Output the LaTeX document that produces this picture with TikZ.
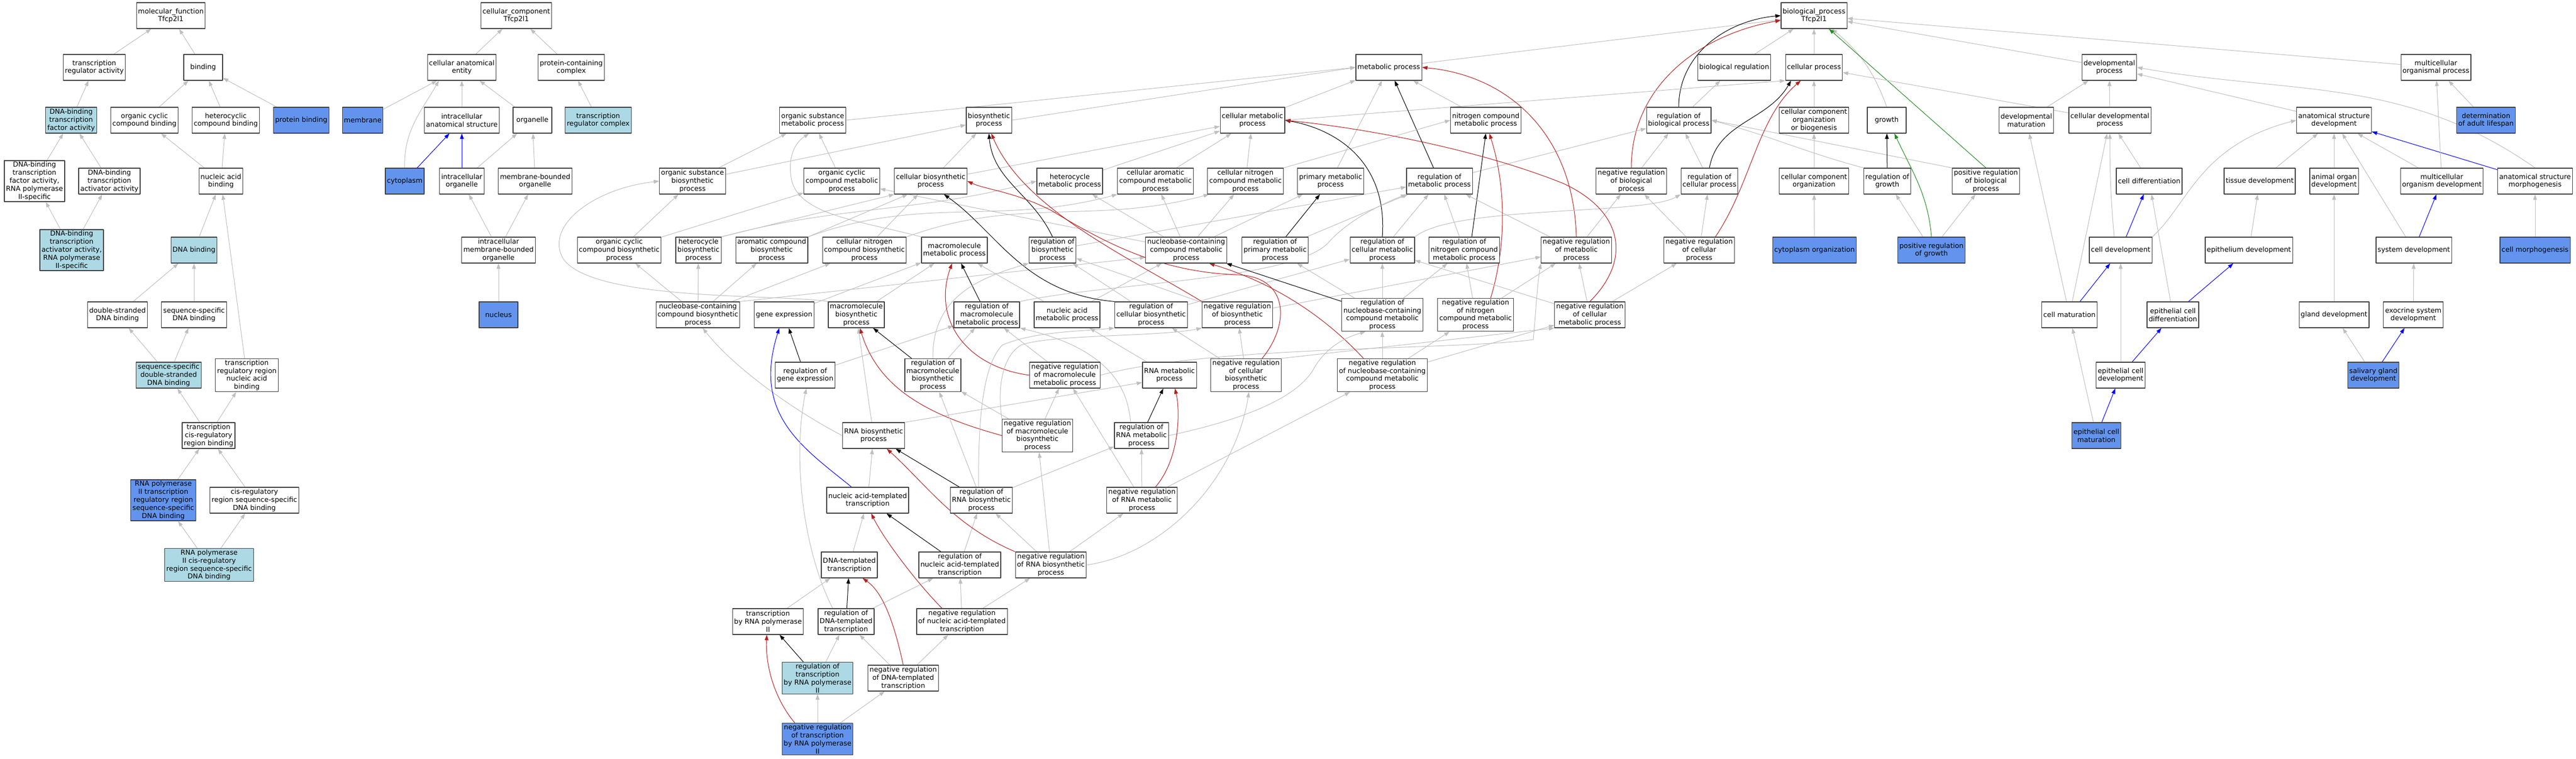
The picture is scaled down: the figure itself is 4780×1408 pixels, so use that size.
\documentclass[tikz,border=0pt]{standalone}
\usepackage{fontspec}
\setmainfont{DejaVu Sans}
\usetikzlibrary{arrows.meta,backgrounds}
\definecolor{isagrey}{rgb}{0.75,0.75,0.75}
\definecolor{negred}{rgb}{0.70,0.13,0.13}
\definecolor{posgreen}{rgb}{0.13,0.55,0.13}
\definecolor{partblue}{rgb}{0.0,0.0,1.0}
\definecolor{hitblue}{rgb}{0.39,0.58,0.93}
\definecolor{setblue}{rgb}{0.68,0.85,0.90}
\definecolor{boxline}{rgb}{0.25,0.25,0.25}
\begin{document}
\begin{tikzpicture}[x=1bp,y=1bp,>={Triangle[length=10bp,width=7bp]},line join=bevel,
  term/.style={draw=boxline,line width=1.2bp,fill=white,align=center,inner xsep=3bp,inner ysep=2bp,
    minimum width=72bp,minimum height=48bp,font=\fontsize{12.8}{15}\selectfont},
  hitbox/.style={term,fill=hitblue},
  setbox/.style={term,fill=setblue},
  isa/.style={->,draw=isagrey,line width=1bp},
  reg/.style={->,draw=black,line width=1bp},
  negreg/.style={->,draw=negred,line width=1bp},
  posreg/.style={->,draw=posgreen,line width=1bp},
  partof/.style={->,draw=partblue,line width=1bp}]
\useasboundingbox (0,0) rectangle (4780,-1408);
%%
%% molecular function
  % Node: mf
  \node[term] (mf) at (317,-29) {molecular\_function\\Tfcp2l1};
  % Node: tra
  \node[term] (tra) at (175,-125) {transcription\\regulator activity};
  % Node: bind
  \node[term] (bind) at (377,-125) {binding};
  % Node: dbtf
  \node[setbox] (dbtf) at (132,-223) {DNA-binding\\transcription\\factor activity};
  % Node: ocb
  \node[term] (ocb) at (268,-223) {organic cyclic\\compound binding};
  % Node: hcb
  \node[term] (hcb) at (419,-223) {heterocyclic\\compound binding};
  % Node: pb
  \node[hitbox] (pb) at (559,-223) {protein binding};
  % Node: dbtfII
  \node[term] (dbtfII) at (64,-336) {DNA-binding\\transcription\\factor activity,\\RNA polymerase\\II-specific};
  % Node: dbta
  \node[term] (dbta) at (203,-336) {DNA-binding\\transcription\\activator activity};
  % Node: nab
  \node[term] (nab) at (410,-336) {nucleic acid\\binding};
  % Node: dbtaII
  \node[setbox] (dbtaII) at (133,-464) {DNA-binding\\transcription\\activator activity,\\RNA polymerase\\II-specific};
  % Node: dnab
  \node[setbox] (dnab) at (360,-464) {DNA binding};
  % Node: dsdb
  \node[term] (dsdb) at (218,-584) {double-stranded\\DNA binding};
  % Node: ssdb
  \node[term] (ssdb) at (360,-584) {sequence-specific\\DNA binding};
  % Node: ssdsdb
  \node[setbox] (ssdsdb) at (313,-696) {sequence-specific\\double-stranded\\DNA binding};
  % Node: trrnab
  \node[term] (trrnab) at (458,-696) {transcription\\regulatory region\\nucleic acid\\binding};
  % Node: tcrb
  \node[term] (tcrb) at (387,-808) {transcription\\cis-regulatory\\region binding};
  % Node: rp2tr
  \node[hitbox] (rp2tr) at (303,-928) {RNA polymerase\\II transcription\\regulatory region\\sequence-specific\\DNA binding};
  % Node: crssdb
  \node[term] (crssdb) at (472,-928) {cis-regulatory\\region sequence-specific\\DNA binding};
  % Node: rp2cr
  \node[setbox] (rp2cr) at (388,-1048) {RNA polymerase\\II cis-regulatory\\region sequence-specific\\DNA binding};
%%
%% cellular component
  % Node: cc
  \node[term] (cc) at (958,-29) {cellular\_component\\Tfcp2l1};
  % Node: cae
  \node[term] (cae) at (857,-125) {cellular anatomical\\entity};
  % Node: pcc
  \node[term] (pcc) at (1060,-125) {protein-containing\\complex};
  % Node: memb
  \node[hitbox] (memb) at (673,-223) {membrane};
  % Node: ias
  \node[term] (ias) at (857,-223) {intracellular\\anatomical structure};
  % Node: org
  \node[term] (org) at (988,-223) {organelle};
  % Node: trc
  \node[setbox] (trc) at (1110,-223) {transcription\\regulator complex};
  % Node: cyto
  \node[hitbox] (cyto) at (751,-336) {cytoplasm};
  % Node: io
  \node[term] (io) at (857,-336) {intracellular\\organelle};
  % Node: mbo
  \node[term] (mbo) at (993,-336) {membrane-bounded\\organelle};
  % Node: imbo
  \node[term] (imbo) at (925,-464) {intracellular\\membrane-bounded\\organelle};
  % Node: nuc
  \node[hitbox] (nuc) at (925,-584) {nucleus};
%%
%% biological process, top
  % Node: bp
  \node[term] (bp) at (3366,-29) {biological\_process\\Tfcp2l1};
  % Node: mp
  \node[term] (mp) at (2577,-125) {metabolic process};
  % Node: breg
  \node[term] (breg) at (3218,-125) {biological regulation};
  % Node: cp
  \node[term] (cp) at (3366,-125) {cellular process};
  % Node: dp
  \node[term] (dp) at (3914,-125) {developmental\\process};
  % Node: mop
  \node[term] (mop) at (4520,-125) {multicellular\\organismal process};
%% rank 2
  % Node: osmp
  \node[term] (osmp) at (1508,-223) {organic substance\\metabolic process};
  % Node: bsp
  \node[term] (bsp) at (1835,-223) {biosynthetic\\process};
  % Node: cmp
  \node[term] (cmp) at (2324,-223) {cellular metabolic\\process};
  % Node: ncmp
  \node[term] (ncmp) at (2757,-223) {nitrogen compound\\metabolic process};
  % Node: rbp
  \node[term] (rbp) at (3115,-223) {regulation of\\biological process};
  % Node: ccob
  \node[term] (ccob) at (3366,-223) {cellular component\\organization\\or biogenesis};
  % Node: growth
  \node[term] (growth) at (3501,-223) {growth};
  % Node: dmat
  \node[term] (dmat) at (3760,-223) {developmental\\maturation};
  % Node: cdp
  \node[term] (cdp) at (3915,-223) {cellular developmental\\process};
  % Node: asd
  \node[term] (asd) at (4331,-223) {anatomical structure\\development};
  % Node: dal
  \node[hitbox] (dal) at (4613,-223) {determination\\of adult lifespan};
%% rank 3
  % Node: osbp
  \node[term] (osbp) at (1285,-336) {organic substance\\biosynthetic\\process};
  % Node: ocmp
  \node[term] (ocmp) at (1562,-336) {organic cyclic\\compound metabolic\\process};
  % Node: cbp
  \node[term] (cbp) at (1727,-336) {cellular biosynthetic\\process};
  % Node: hmp
  \node[term] (hmp) at (1985,-336) {heterocycle\\metabolic process};
  % Node: camp
  \node[term] (camp) at (2144,-336) {cellular aromatic\\compound metabolic\\process};
  % Node: cnmp
  \node[term] (cnmp) at (2311,-336) {cellular nitrogen\\compound metabolic\\process};
  % Node: pmp
  \node[term] (pmp) at (2469,-336) {primary metabolic\\process};
  % Node: rmp
  \node[term] (rmp) at (2671,-336) {regulation of\\metabolic process};
  % Node: nrbp
  \node[term] (nrbp) at (3027,-336) {negative regulation\\of biological\\process};
  % Node: rcp
  \node[term] (rcp) at (3172,-336) {regulation of\\cellular process};
  % Node: ccorg
  \node[term] (ccorg) at (3366,-336) {cellular component\\organization};
  % Node: rgrowth
  \node[term] (rgrowth) at (3502,-336) {regulation of\\growth};
  % Node: prbp
  \node[term] (prbp) at (3685,-336) {positive regulation\\of biological\\process};
  % Node: cdiff
  \node[term] (cdiff) at (3988,-336) {cell differentiation};
  % Node: tdev
  \node[term] (tdev) at (4193,-336) {tissue development};
  % Node: aod
  \node[term] (aod) at (4331,-336) {animal organ\\development};
  % Node: mod
  \node[term] (mod) at (4531,-336) {multicellular\\organism development};
  % Node: asm
  \node[term] (asm) at (4704,-336) {anatomical structure\\morphogenesis};
%% rank 4
  % Node: ocbp
  \node[term] (ocbp) at (1149,-464) {organic cyclic\\compound biosynthetic\\process};
  % Node: hbp
  \node[term] (hbp) at (1296,-464) {heterocycle\\biosynthetic\\process};
  % Node: acbp
  \node[term] (acbp) at (1432,-464) {aromatic compound\\biosynthetic\\process};
  % Node: cnbp
  \node[term] (cnbp) at (1604,-464) {cellular nitrogen\\compound biosynthetic\\process};
  % Node: mmp
  \node[term] (mmp) at (1771,-464) {macromolecule\\metabolic process};
  % Node: rbsp
  \node[term] (rbsp) at (1953,-464) {regulation of\\biosynthetic\\process};
  % Node: nbmp
  \node[term] (nbmp) at (2201,-464) {nucleobase-containing\\compound metabolic\\process};
  % Node: rpmp
  \node[term] (rpmp) at (2366,-464) {regulation of\\primary metabolic\\process};
  % Node: rcmp
  \node[term] (rcmp) at (2565,-464) {regulation of\\cellular metabolic\\process};
  % Node: rncmp
  \node[term] (rncmp) at (2717,-464) {regulation of\\nitrogen compound\\metabolic process};
  % Node: nrmp
  \node[term] (nrmp) at (2925,-464) {negative regulation\\of metabolic\\process};
  % Node: nrcp
  \node[term] (nrcp) at (3153,-464) {negative regulation\\of cellular\\process};
  % Node: cporg
  \node[hitbox] (cporg) at (3367,-464) {cytoplasm organization};
  % Node: prg
  \node[hitbox] (prg) at (3584,-464) {positive regulation\\of growth};
  % Node: cdev
  \node[term] (cdev) at (3935,-464) {cell development};
  % Node: epd
  \node[term] (epd) at (4173,-464) {epithelium development};
  % Node: sysd
  \node[term] (sysd) at (4479,-464) {system development};
  % Node: cmorph
  \node[hitbox] (cmorph) at (4704,-464) {cell morphogenesis};
%% rank 5
  % Node: nbbp
  \node[term] (nbbp) at (1295,-584) {nucleobase-containing\\compound biosynthetic\\process};
  % Node: gexp
  \node[term] (gexp) at (1455,-584) {gene expression};
  % Node: mbp
  \node[term] (mbp) at (1589,-584) {macromolecule\\biosynthetic\\process};
  % Node: rmmp
  \node[term] (rmmp) at (1831,-584) {regulation of\\macromolecule\\metabolic process};
  % Node: namp
  \node[term] (namp) at (1980,-584) {nucleic acid\\metabolic process};
  % Node: rcbp
  \node[term] (rcbp) at (2136,-584) {regulation of\\cellular biosynthetic\\process};
  % Node: nrbsp
  \node[term] (nrbsp) at (2296,-584) {negative regulation\\of biosynthetic\\process};
  % Node: rnbmp
  \node[term] (rnbmp) at (2565,-584) {regulation of\\nucleobase-containing\\compound metabolic\\process};
  % Node: nrnmp
  \node[term] (nrnmp) at (2738,-584) {negative regulation\\of nitrogen\\compound metabolic\\process};
  % Node: nrcmp
  \node[term] (nrcmp) at (2950,-584) {negative regulation\\of cellular\\metabolic process};
  % Node: cmat
  \node[term] (cmat) at (3840,-584) {cell maturation};
  % Node: ecd
  \node[term] (ecd) at (4032,-584) {epithelial cell\\differentiation};
  % Node: glandd
  \node[term] (glandd) at (4331,-584) {gland development};
  % Node: exod
  \node[term] (exod) at (4478,-584) {exocrine system\\development};
%% rank 6
  % Node: rge
  \node[term] (rge) at (1494,-696) {regulation of\\gene expression};
  % Node: rmbp
  \node[term] (rmbp) at (1731,-696) {regulation of\\macromolecule\\biosynthetic\\process};
  % Node: nrmmp
  \node[term] (nrmmp) at (1976,-696) {negative regulation\\of macromolecule\\metabolic process};
  % Node: rnamp
  \node[term] (rnamp) at (2170,-696) {RNA metabolic\\process};
  % Node: nrcbp
  \node[term] (nrcbp) at (2312,-696) {negative regulation\\of cellular\\biosynthetic\\process};
  % Node: nrnbmp
  \node[term] (nrnbmp) at (2565,-696) {negative regulation\\of nucleobase-containing\\compound metabolic\\process};
  % Node: ecdev
  \node[term] (ecdev) at (3935,-696) {epithelial cell\\development};
  % Node: sgd
  \node[hitbox] (sgd) at (4404,-696) {salivary gland\\development};
%% rank 7 and below
  % Node: rnabsp
  \node[term] (rnabsp) at (1621,-808) {RNA biosynthetic\\process};
  % Node: nrmbp
  \node[term] (nrmbp) at (1925,-808) {negative regulation\\of macromolecule\\biosynthetic\\process};
  % Node: rrnamp
  \node[term] (rrnamp) at (2118,-808) {regulation of\\RNA metabolic\\process};
  % Node: ecm
  \node[hitbox] (ecm) at (3890,-808) {epithelial cell\\maturation};
  % Node: nat
  \node[term] (nat) at (1610,-928) {nucleic acid-templated\\transcription};
  % Node: rrnabsp
  \node[term] (rrnabsp) at (1821,-928) {regulation of\\RNA biosynthetic\\process};
  % Node: nrrnamp
  \node[term] (nrrnamp) at (2119,-928) {negative regulation\\of RNA metabolic\\process};
  % Node: dtt
  \node[term] (dtt) at (1576,-1048) {DNA-templated\\transcription};
  % Node: rnat
  \node[term] (rnat) at (1781,-1048) {regulation of\\nucleic acid-templated\\transcription};
  % Node: nrrnabsp
  \node[term] (nrrnabsp) at (1950,-1048) {negative regulation\\of RNA biosynthetic\\process};
  % Node: tbrp2
  \node[term] (tbrp2) at (1425,-1153) {transcription\\by RNA polymerase\\II};
  % Node: rdtt
  \node[term] (rdtt) at (1570,-1153) {regulation of\\DNA-templated\\transcription};
  % Node: nrnat
  \node[term] (nrnat) at (1785,-1153) {negative regulation\\of nucleic acid-templated\\transcription};
  % Node: rtbrp2
  \node[setbox] (rtbrp2) at (1517,-1258) {regulation of\\transcription\\by RNA polymerase\\II};
  % Node: nrdtt
  \node[term] (nrdtt) at (1676,-1258) {negative regulation\\of DNA-templated\\transcription};
  % Node: nrtbrp2
  \node[hitbox] (nrtbrp2) at (1517,-1371) {negative regulation\\of transcription\\by RNA polymerase\\II};
%%
\begin{pgfonlayer}{background}
  \fill[white] (0,0) rectangle (4780,-1408);
  %% molecular function edges
  % Edge: tra -> mf
  \draw[isa] (tra) -- (mf);
  % Edge: bind -> mf
  \draw[isa] (bind) -- (mf);
  % Edge: dbtf -> tra
  \draw[isa] (dbtf) -- (tra);
  % Edge: ocb -> bind
  \draw[isa] (ocb) -- (bind);
  % Edge: hcb -> bind
  \draw[isa] (hcb) -- (bind);
  % Edge: pb -> bind
  \draw[isa] (pb) -- (bind);
  % Edge: dbtfII -> dbtf
  \draw[isa] (dbtfII) -- (dbtf);
  % Edge: dbta -> dbtf
  \draw[isa] (dbta) -- (dbtf);
  % Edge: nab -> ocb
  \draw[isa] (nab) -- (ocb);
  % Edge: nab -> hcb
  \draw[isa] (nab) -- (hcb);
  % Edge: dbtaII -> dbtfII
  \draw[isa] (dbtaII) -- (dbtfII);
  % Edge: dbtaII -> dbta
  \draw[isa] (dbtaII) -- (dbta);
  % Edge: dnab -> nab
  \draw[isa] (dnab) -- (nab);
  % Edge: trrnab -> nab
  \draw[isa] (trrnab) -- (nab);
  % Edge: dsdb -> dnab
  \draw[isa] (dsdb) -- (dnab);
  % Edge: ssdb -> dnab
  \draw[isa] (ssdb) -- (dnab);
  % Edge: ssdsdb -> dsdb
  \draw[isa] (ssdsdb) -- (dsdb);
  % Edge: ssdsdb -> ssdb
  \draw[isa] (ssdsdb) -- (ssdb);
  % Edge: tcrb -> ssdsdb
  \draw[isa] (tcrb) -- (ssdsdb);
  % Edge: tcrb -> trrnab
  \draw[isa] (tcrb) -- (trrnab);
  % Edge: rp2tr -> tcrb
  \draw[isa] (rp2tr) -- (tcrb);
  % Edge: crssdb -> tcrb
  \draw[isa] (crssdb) -- (tcrb);
  % Edge: rp2cr -> rp2tr
  \draw[isa] (rp2cr) -- (rp2tr);
  % Edge: rp2cr -> crssdb
  \draw[isa] (rp2cr) -- (crssdb);
  %% cellular component edges
  % Edge: cae -> cc
  \draw[isa] (cae) -- (cc);
  % Edge: pcc -> cc
  \draw[isa] (pcc) -- (cc);
  % Edge: memb -> cae
  \draw[isa] (memb) -- (cae);
  % Edge: cyto -> cae
  \draw[isa] (cyto.north) to[out=92,in=-120] (cae.-150);
  % Edge: ias -> cae
  \draw[isa] (ias) -- (cae);
  % Edge: org -> cae
  \draw[isa] (org) -- (cae);
  % Edge: trc -> pcc
  \draw[isa] (trc) -- (pcc);
  % Edge: cyto -> ias
  \draw[partof] (cyto) -- (ias);
  % Edge: io -> ias
  \draw[partof] (io) -- (ias);
  % Edge: io -> org
  \draw[isa] (io) -- (org);
  % Edge: mbo -> org
  \draw[isa] (mbo) -- (org);
  % Edge: imbo -> io
  \draw[isa] (imbo) -- (io);
  % Edge: imbo -> mbo
  \draw[isa] (imbo) -- (mbo);
  % Edge: nuc -> imbo
  \draw[isa] (nuc) -- (imbo);
  %% biological process, top
  % Edge: breg -> bp
  \draw[isa] (breg) -- (bp);
  % Edge: cp -> bp
  \draw[isa] (cp) -- (bp);
  % Edge: mp -> bp
  \draw[isa] (mp) -- (bp);
  % Edge: growth -> bp
  \draw[isa] (growth.north) to[bend right=15] (bp);
  % Edge: dp -> bp
  \draw[isa] (dp) -- (bp);
  % Edge: mop -> bp
  \draw[isa] (mop) -- (bp);
  % Edge: rbp -> bp
  \draw[reg] (rbp.north) to[out=90,in=185] (bp.west);
  % Edge: nrbp -> bp
  \draw[negreg] (nrbp.north) to[out=90,in=190] (bp.-172);
  % Edge: prbp -> bp
  \draw[posreg] (prbp.north) -- (bp);
  % Edge: rbp -> breg
  \draw[isa] (rbp) -- (breg);
  % Edge: nrbp -> rbp
  \draw[isa] (nrbp) -- (rbp);
  % Edge: prbp -> rbp
  \draw[isa] (prbp.north west) -- (rbp.east);
  % Edge: rgrowth -> rbp
  \draw[isa] (rgrowth.north west) to[out=165,in=-15] (rbp.east);
  % Edge: rcp -> rbp
  \draw[isa] (rcp) -- (rbp);
  % Edge: rmp -> rbp
  \draw[isa] (rmp) -- (rbp);
  % Edge: rcp -> cp
  \draw[reg] (rcp.north) to[out=80,in=-120] (cp.-150);
  % Edge: nrcp -> cp
  \draw[negreg] ([xshift=30bp]nrcp.north) .. controls (3250,-340) and (3260,-220) .. (cp.-135);
  % Edge: nrcp -> rcp
  \draw[isa] (nrcp) -- (rcp);
  % Edge: nrcp -> nrbp
  \draw[isa] (nrcp) -- (nrbp);
  % Edge: cmp -> cp
  \draw[isa] (cmp.east) -- (cp.south west);
  % Edge: ccob -> cp
  \draw[isa] (ccob) -- (cp);
  % Edge: ccorg -> ccob
  \draw[isa] (ccorg) -- (ccob);
  % Edge: cporg -> ccorg
  \draw[isa] (cporg) -- (ccorg);
  % Edge: rgrowth -> growth
  \draw[reg] (rgrowth) -- (growth);
  % Edge: prg -> growth
  \draw[posreg] (prg.north) to[out=95,in=-65] (growth.-60);
  % Edge: prg -> rgrowth
  \draw[isa] (prg) -- (rgrowth);
  % Edge: prg -> prbp
  \draw[isa] (prg) -- (prbp);
  % Edge: cdp -> cp
  \draw[isa] (cdp) -- (cp);
  %% development
  % Edge: dmat -> dp
  \draw[isa] (dmat) -- (dp);
  % Edge: cdp -> dp
  \draw[isa] (cdp) -- (dp);
  % Edge: asd -> dp
  \draw[isa] (asd) -- (dp);
  % Edge: asm -> dp
  \draw[isa] (asm.north) to[out=145,in=-10] (dp.east);
  % Edge: cdiff -> cdp
  \draw[isa] (cdiff) -- (cdp);
  % Edge: cdev -> cdp
  \draw[isa] ([xshift=-12bp]cdev.north) to[out=95,in=-90] (cdp.south);
  % Edge: cmat -> dmat
  \draw[isa] (cmat) -- (dmat);
  % Edge: cmat -> cdp
  \draw[isa] (cmat) -- (cdp);
  % Edge: cmat -> cdev
  \draw[partof] (cmat) -- (cdev);
  % Edge: cdev -> cdiff
  \draw[partof] (cdev) -- (cdiff);
  % Edge: cdev -> asd
  \draw[isa] (cdev.north east) .. controls (4060,-380) and (4080,-270) .. (asd.west);
  % Edge: ecdev -> cdev
  \draw[isa] (ecdev) -- (cdev);
  % Edge: ecdev -> ecd
  \draw[partof] (ecdev) -- (ecd);
  % Edge: ecm -> cmat
  \draw[isa] (ecm) -- (cmat);
  % Edge: ecm -> ecdev
  \draw[partof] (ecm) -- (ecdev);
  % Edge: ecd -> cdiff
  \draw[isa] (ecd) -- (cdiff);
  % Edge: ecd -> epd
  \draw[partof] (ecd) -- (epd);
  % Edge: epd -> tdev
  \draw[isa] (epd) -- (tdev);
  % Edge: tdev -> asd
  \draw[isa] (tdev) -- (asd);
  % Edge: aod -> asd
  \draw[isa] (aod) -- (asd);
  % Edge: mod -> asd
  \draw[isa] (mod) -- (asd);
  % Edge: sysd -> asd
  \draw[isa] (sysd) -- (asd);
  % Edge: asm -> asd
  \draw[partof] (asm) -- (asd);
  % Edge: sysd -> mod
  \draw[partof] (sysd) -- (mod);
  % Edge: mod -> mop
  \draw[isa] (mod) -- (mop);
  % Edge: dal -> mop
  \draw[isa] (dal) -- (mop);
  % Edge: glandd -> aod
  \draw[isa] (glandd) -- (aod);
  % Edge: exod -> sysd
  \draw[isa] (exod) -- (sysd);
  % Edge: sgd -> glandd
  \draw[isa] (sgd) -- (glandd);
  % Edge: sgd -> exod
  \draw[partof] (sgd) -- (exod);
  % Edge: cmorph -> asm
  \draw[isa] (cmorph) -- (asm);
  %% metabolism, ranks 1-3
  % Edge: osmp -> mp
  \draw[isa] (osmp.east) -- (mp.west);
  % Edge: bsp -> mp
  \draw[isa] (bsp.east) -- (mp.west);
  % Edge: cmp -> mp
  \draw[isa] (cmp) -- (mp);
  % Edge: pmp -> mp
  \draw[isa] (pmp) -- (mp);
  % Edge: ncmp -> mp
  \draw[isa] (ncmp) -- (mp);
  % Edge: rmp -> mp
  \draw[reg] (rmp) -- (mp);
  % Edge: nrmp -> mp
  \draw[negreg] (nrmp.north) .. controls (2920,-250) and (2800,-140) .. (mp.east);
  % Edge: osbp -> osmp
  \draw[isa] (osbp) -- (osmp);
  % Edge: osbp -> bsp
  \draw[isa] (osbp) -- (bsp);
  % Edge: ocmp -> osmp
  \draw[isa] (ocmp) -- (osmp);
  % Edge: cbp -> bsp
  \draw[isa] (cbp) -- (bsp);
  % Edge: cbp -> cmp
  \draw[isa] (cbp) -- (cmp);
  % Edge: hmp -> cmp
  \draw[isa] (hmp) -- (cmp);
  % Edge: camp -> cmp
  \draw[isa] (camp) -- (cmp);
  % Edge: cnmp -> cmp
  \draw[isa] (cnmp) -- (cmp);
  % Edge: cnmp -> ncmp
  \draw[isa] (cnmp.north east) -- (ncmp.west);
  %% metabolism, rank 4
  % Edge: ocbp -> osbp
  \draw[isa] (ocbp) -- (osbp);
  % Edge: ocbp -> ocmp
  \draw[isa] (ocbp) -- (ocmp);
  % Edge: hbp -> hmp
  \draw[isa] (hbp.north east) to[out=15,in=195] (hmp.west);
  % Edge: hbp -> cbp
  \draw[isa] (hbp.north east) -- (cbp.-160);
  % Edge: acbp -> camp
  \draw[isa] (acbp.north east) to[out=20,in=195] (camp.south west);
  % Edge: acbp -> cbp
  \draw[isa] (acbp.north east) -- (cbp.-150);
  % Edge: cnbp -> cnmp
  \draw[isa] (cnbp.north east) to[out=20,in=195] (cnmp.-160);
  % Edge: cnbp -> cbp
  \draw[isa] (cnbp) -- (cbp);
  % Edge: mmp -> osmp
  \draw[isa] (mmp.north west) .. controls (1600,-410) and (1480,-400) .. (1468,-330) .. controls (1462,-290) and (1475,-265) .. (osmp.-105);
  % Edge: nbmp -> ocmp
  \draw[isa] (nbmp) -- (ocmp);
  % Edge: nbmp -> hmp
  \draw[isa] (nbmp) -- (hmp);
  % Edge: nbmp -> camp
  \draw[isa] (nbmp) -- (camp);
  % Edge: nbmp -> cnmp
  \draw[isa] (nbmp) -- (cnmp);
  % Edge: nbmp -> pmp
  \draw[isa] (nbmp) -- (pmp);
  % Edge: rbsp -> bsp
  \draw[reg] (rbsp.north) to[out=115,in=-85] (bsp.south);
  % Edge: rbsp -> rmp
  \draw[isa] (rbsp) -- (rmp);
  % Edge: rpmp -> pmp
  \draw[reg] (rpmp) -- (pmp);
  % Edge: rpmp -> rmp
  \draw[isa] (rpmp) -- (rmp);
  % Edge: rcmp -> cmp
  \draw[reg] (rcmp.north) .. controls (2575,-300) and (2480,-240) .. (cmp.east);
  % Edge: rcmp -> rmp
  \draw[isa] (rcmp) -- (rmp);
  % Edge: rcmp -> rcp
  \draw[isa] (rcmp.north east) .. controls (2700,-380) and (3050,-400) .. (rcp.south west);
  % Edge: rncmp -> ncmp
  \draw[reg] ([xshift=14bp]rncmp.north) -- (ncmp.south);
  % Edge: rncmp -> rmp
  \draw[isa] (rncmp) -- (rmp);
  % Edge: nrmp -> rmp
  \draw[isa] (nrmp) -- (rmp);
  % Edge: nrmp -> nrbp
  \draw[isa] (nrmp) -- (nrbp);
  %% metabolism, rank 5
  % Edge: nbbp -> ocbp
  \draw[isa] (nbbp) -- (ocbp);
  % Edge: nbbp -> hbp
  \draw[isa] (nbbp) -- (hbp);
  % Edge: nbbp -> acbp
  \draw[isa] (nbbp) -- (acbp);
  % Edge: nbbp -> cnbp
  \draw[isa] (nbbp) -- (cnbp);
  % Edge: nbbp -> nbmp
  \draw[isa] (nbbp.north east) -- (nbmp.-170);
  % Edge: gexp -> mmp
  \draw[isa] (gexp) -- (mmp);
  % Edge: mbp -> mmp
  \draw[isa] (mbp) -- (mmp);
  % Edge: mbp -> osbp
  \draw[isa] (mbp.north west) .. controls (1450,-545) and (1100,-560) .. (1045,-480) .. controls (1010,-420) and (1100,-350) .. (osbp.west);
  % Edge: rmmp -> mmp
  \draw[reg] (rmmp) -- (mmp);
  % Edge: rmmp -> rmp
  \draw[isa] (rmmp.north east) .. controls (2050,-525) and (2400,-520) .. (2465,-450) .. controls (2500,-410) and (2560,-380) .. (rmp.south west);
  % Edge: namp -> nbmp
  \draw[isa] (namp) -- (nbmp);
  % Edge: namp -> mmp
  \draw[isa] (namp) -- (mmp);
  % Edge: rcbp -> cbp
  \draw[reg] (rcbp.north west) .. controls (1900,-545) and (1850,-430) .. (cbp.-45);
  % Edge: rcbp -> rbsp
  \draw[isa] (rcbp) -- (rbsp);
  % Edge: rcbp -> rcmp
  \draw[isa] (rcbp) -- (rcmp);
  % Edge: nrbsp -> bsp
  \draw[negreg] (nrbsp.north west) .. controls (2100,-480) and (1900,-390) .. (bsp.-80);
  % Edge: nrbsp -> rbsp
  \draw[isa] (nrbsp) -- (rbsp);
  % Edge: nrbsp -> nrmp
  \draw[isa] (nrbsp) -- (nrmp);
  % Edge: rnbmp -> nbmp
  \draw[reg] (rnbmp) -- (nbmp);
  % Edge: rnbmp -> rpmp
  \draw[isa] (rnbmp) -- (rpmp);
  % Edge: rnbmp -> rcmp
  \draw[isa] (rnbmp) -- (rcmp);
  % Edge: rnbmp -> rncmp
  \draw[isa] (rnbmp) -- (rncmp);
  % Edge: nrnmp -> ncmp
  \draw[negreg] ([xshift=28bp]nrnmp.north) .. controls (2800,-440) and (2790,-330) .. (ncmp.-75);
  % Edge: nrnmp -> rncmp
  \draw[isa] (nrnmp) -- (rncmp);
  % Edge: nrnmp -> nrmp
  \draw[isa] (nrnmp) -- (nrmp);
  % Edge: nrcmp -> cmp
  \draw[negreg] (nrcmp.north) .. controls (3030,-480) and (3010,-390) .. (2900,-340) .. controls (2750,-280) and (2550,-240) .. (cmp.east);
  % Edge: nrcmp -> rcmp
  \draw[isa] (nrcmp) -- (rcmp);
  % Edge: nrcmp -> nrmp
  \draw[isa] (nrcmp) -- (nrmp);
  % Edge: nrcmp -> nrcp
  \draw[isa] (nrcmp) -- (nrcp);
  %% metabolism, rank 6
  % Edge: rge -> gexp
  \draw[reg] (rge) -- (gexp);
  % Edge: rge -> rmmp
  \draw[isa] (rge) -- (rmmp);
  % Edge: rmbp -> mbp
  \draw[reg] (rmbp) -- (mbp);
  % Edge: rmbp -> rmmp
  \draw[isa] (rmbp) -- (rmmp);
  % Edge: rmbp -> rbsp
  \draw[isa] (rmbp.north) .. controls (1730,-560) and (1800,-520) .. (rbsp.south west);
  % Edge: nrmmp -> mmp
  \draw[negreg] (nrmmp.west) .. controls (1790,-680) and (1730,-590) .. (mmp.-100);
  % Edge: nrmmp -> rmmp
  \draw[isa] (nrmmp) -- (rmmp);
  % Edge: nrmmp -> nrmp
  \draw[isa] (nrmmp.east) .. controls (2250,-640) and (2700,-650) .. (2845,-630) .. controls (2850,-580) and (2852,-530) .. (nrmp.south west);
  % Edge: rnamp -> namp
  \draw[isa] (rnamp) -- (namp);
  % Edge: nrcbp -> cbp
  \draw[negreg] ([xshift=30bp]nrcbp.north) .. controls (2395,-600) and (2390,-515) .. (2300,-510) .. controls (2150,-505) and (2050,-450) .. (1950,-390) .. controls (1880,-355) and (1830,-352) .. (cbp.east);
  % Edge: nrcbp -> rcbp
  \draw[isa] (nrcbp) -- (rcbp);
  % Edge: nrcbp -> nrbsp
  \draw[isa] (nrcbp) -- (nrbsp);
  % Edge: nrcbp -> nrcmp
  \draw[isa] (nrcbp.north east) -- (nrcmp.south west);
  % Edge: nrnbmp -> nbmp
  \draw[negreg] ([xshift=-35bp]nrnbmp.north) .. controls (2470,-600) and (2380,-530) .. (nbmp.-30);
  % Edge: nrnbmp -> rnbmp
  \draw[isa] (nrnbmp) -- (rnbmp);
  % Edge: nrnbmp -> nrnmp
  \draw[isa] (nrnbmp) -- (nrnmp);
  % Edge: nrnbmp -> nrcmp
  \draw[isa] (nrnbmp) -- (nrcmp);
  %% rank 7
  % Edge: rnabsp -> mbp
  \draw[isa] (rnabsp) -- (mbp);
  % Edge: rnabsp -> nbbp
  \draw[isa] (rnabsp.west) .. controls (1470,-760) and (1360,-680) .. (nbbp.-70);
  % Edge: rnabsp -> rnamp
  \draw[isa] (rnabsp.north east) -- (rnamp.-165);
  % Edge: nrmbp -> mbp
  \draw[negreg] (nrmbp.west) .. controls (1720,-770) and (1630,-720) .. (mbp.-75);
  % Edge: nrmbp -> rmbp
  \draw[isa] (nrmbp) -- (rmbp);
  % Edge: nrmbp -> nrmmp
  \draw[isa] (nrmbp) -- (nrmmp);
  % Edge: nrmbp -> nrbsp
  \draw[isa] (nrmbp.north west) .. controls (1850,-720) and (1860,-660) .. (1895,-640) .. controls (1950,-620) and (2150,-625) .. (nrbsp.south west);
  % Edge: rrnamp -> rnamp
  \draw[reg] (rrnamp) -- (rnamp);
  % Edge: rrnamp -> rnbmp
  \draw[isa] (rrnamp.east) .. controls (2300,-780) and (2410,-740) .. (2440,-680) .. controls (2465,-640) and (2500,-625) .. (rnbmp.-135);
  % Edge: rrnamp -> rmmp
  \draw[isa] ([xshift=-20bp]rrnamp.north) .. controls (2093,-730) and (2070,-650) .. (rmmp.south east);
  %% rank 8
  % Edge: nat -> rnabsp
  \draw[isa] (nat) -- (rnabsp);
  % Edge: nat -> gexp
  \draw[partof] ([xshift=-30bp]nat.north) .. controls (1490,-830) and (1395,-770) .. (gexp.-110);
  % Edge: rrnabsp -> rnabsp
  \draw[reg] (rrnabsp) -- (rnabsp);
  % Edge: rrnabsp -> rmbp
  \draw[isa] (rrnabsp) -- (rmbp);
  % Edge: rrnabsp -> rrnamp
  \draw[isa] (rrnabsp) -- (rrnamp);
  % Edge: rrnabsp -> rcbp
  \draw[isa] ([xshift=-5bp]rrnabsp.north) .. controls (1815,-800) and (1820,-680) .. (1860,-640) .. controls (1920,-615) and (2000,-615) .. (rcbp.south west);
  % Edge: nrrnamp -> rnamp
  \draw[negreg] ([xshift=25bp]nrrnamp.north) .. controls (2190,-850) and (2190,-760) .. ([xshift=10bp]rnamp.south);
  % Edge: nrrnamp -> rrnamp
  \draw[isa] (nrrnamp) -- (rrnamp);
  % Edge: nrrnamp -> nrnbmp
  \draw[isa] (nrrnamp) -- (nrnbmp);
  % Edge: nrrnamp -> nrmmp
  \draw[isa] (nrrnamp) -- (nrmmp);
  %% rank 9
  % Edge: dtt -> nat
  \draw[isa] (dtt) -- (nat);
  % Edge: rnat -> nat
  \draw[reg] (rnat) -- (nat);
  % Edge: rnat -> rrnabsp
  \draw[isa] (rnat) -- (rrnabsp);
  % Edge: nrrnabsp -> rnabsp
  \draw[negreg] (nrrnabsp.north west) .. controls (1770,-975) and (1720,-900) .. (rnabsp.-45);
  % Edge: nrrnabsp -> rrnabsp
  \draw[isa] (nrrnabsp) -- (rrnabsp);
  % Edge: nrrnabsp -> nrmbp
  \draw[isa] (nrrnabsp) -- (nrmbp);
  % Edge: nrrnabsp -> nrrnamp
  \draw[isa] (nrrnabsp) -- (nrrnamp);
  % Edge: nrrnabsp -> nrcbp
  \draw[isa] (nrrnabsp.east) .. controls (2150,-1030) and (2290,-900) .. (nrcbp.-80);
  %% rank 10
  % Edge: tbrp2 -> dtt
  \draw[isa] (tbrp2) -- (dtt);
  % Edge: rdtt -> dtt
  \draw[reg] (rdtt) -- (dtt);
  % Edge: rdtt -> rnat
  \draw[isa] (rdtt) -- (rnat);
  % Edge: rdtt -> rge
  \draw[isa] ([xshift=-25bp]rdtt.north) .. controls (1490,-1020) and (1470,-850) .. (rge.-85);
  % Edge: nrnat -> nat
  \draw[negreg] ([xshift=-37bp]nrnat.north) .. controls (1700,-1080) and (1640,-1000) .. (nat.-75);
  % Edge: nrnat -> rnat
  \draw[isa] (nrnat) -- (rnat);
  % Edge: nrnat -> nrrnabsp
  \draw[isa] (nrnat) -- (nrrnabsp);
  %% rank 11
  % Edge: rtbrp2 -> tbrp2
  \draw[reg] (rtbrp2) -- (tbrp2);
  % Edge: rtbrp2 -> rdtt
  \draw[isa] (rtbrp2) -- (rdtt);
  % Edge: nrdtt -> rdtt
  \draw[isa] (nrdtt) -- (rdtt);
  % Edge: nrdtt -> dtt
  \draw[negreg] (nrdtt.north) .. controls (1660,-1160) and (1640,-1100) .. (dtt.-45);
  % Edge: nrdtt -> nrnat
  \draw[isa] (nrdtt) -- (nrnat);
  %% rank 12
  % Edge: nrtbrp2 -> tbrp2
  \draw[negreg] ([xshift=-42bp]nrtbrp2.north) .. controls (1440,-1300) and (1420,-1240) .. (tbrp2.-95);
  % Edge: nrtbrp2 -> rtbrp2
  \draw[isa] (nrtbrp2) -- (rtbrp2);
  % Edge: nrtbrp2 -> nrdtt
  \draw[isa] (nrtbrp2) -- (nrdtt);
\end{pgfonlayer}
%
\end{tikzpicture}
\end{document}
